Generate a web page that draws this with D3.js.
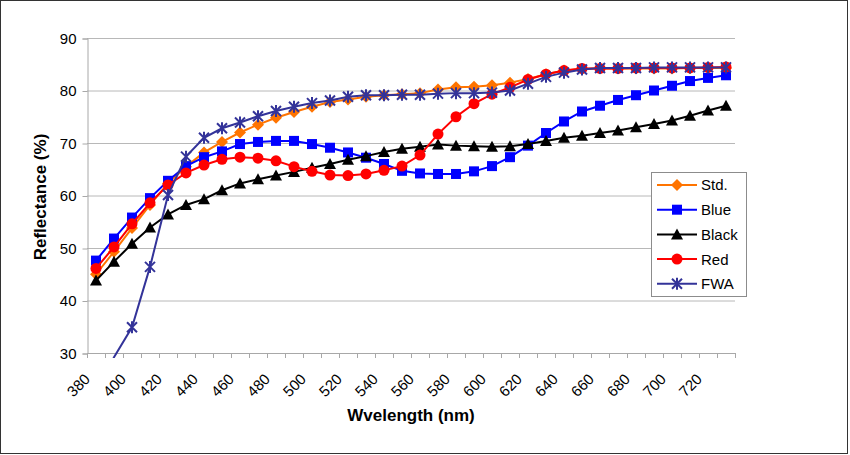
<!DOCTYPE html>
<html>
<head>
<meta charset="utf-8">
<script src="https://cdn.jsdelivr.net/npm/d3@7/dist/d3.min.js"></script>
<style>
  body { margin: 0; background: #fff; }
  svg { display: block; font-family: "Liberation Sans", Arial, sans-serif; }
</style>
</head>
<body>
<div id="chart"></div>
<script>
// wavelengths (nm), one category every 10 nm
var wavelengths = d3.range(380, 740, 10);
var xLabels = d3.range(380, 740, 20);
var yTicks = [30, 40, 50, 60, 70, 80, 90];

// reflectance (%)
var stdVals = [45.0, 49.3, 53.8, 58.2, 62.3, 65.5, 68.2, 70.2, 72.0, 73.5,
  74.8, 75.9, 76.9, 77.8, 78.3, 78.8, 79.1, 79.3, 79.5, 80.2,
  80.6, 80.7, 81.0, 81.5, 82.2, 83.1, 83.8, 84.1, 84.2, 84.2,
  84.2, 84.2, 84.2, 84.3, 84.3, 84.3];
var blueVals = [47.6, 51.8, 55.8, 59.5, 62.8, 65.6, 67.3, 68.4, 69.8, 70.2,
  70.4, 70.4, 69.8, 69.1, 68.2, 67.2, 66.0, 64.7, 64.2, 64.1,
  64.1, 64.6, 65.6, 67.3, 69.5, 71.9, 74.1, 76.0, 77.1, 78.2,
  79.1, 80.0, 80.9, 81.8, 82.4, 82.9];
var blackVals = [43.8, 47.4, 50.8, 53.9, 56.4, 58.2, 59.3, 61.0, 62.3, 63.1,
  63.8, 64.5, 65.3, 66.0, 66.8, 67.5, 68.3, 68.9, 69.3, 69.7,
  69.5, 69.4, 69.3, 69.4, 69.8, 70.4, 71.0, 71.4, 71.9, 72.4,
  73.0, 73.6, 74.3, 75.2, 76.2, 77.1];
var redVals = [46.1, 50.2, 54.6, 58.6, 62.0, 64.3, 65.8, 66.9, 67.3, 67.1,
  66.6, 65.5, 64.6, 63.9, 63.8, 64.1, 64.8, 65.6, 67.7, 71.7,
  75.0, 77.5, 79.3, 80.6, 82.1, 83.1, 83.8, 84.2, 84.2, 84.2,
  84.3, 84.3, 84.3, 84.3, 84.4, 84.5];
var fwaVals = [22.0, 29.2, 34.9, 46.4, 60.1, 67.4, 71.0, 72.8, 73.9, 75.1,
  76.1, 76.9, 77.6, 78.1, 78.8, 79.1, 79.1, 79.2, 79.2, 79.4,
  79.5, 79.5, 79.6, 80.0, 81.3, 82.6, 83.4, 84.0, 84.3, 84.3,
  84.3, 84.4, 84.4, 84.4, 84.4, 84.4];

var seriesNames = ["Std.", "Blue", "Black", "Red", "FWA"];
var seriesColors = ["#ff7400", "#0000ff", "#000000", "#ff0000", "#333399"];
var seriesShapes = ["diamond", "square", "triangle", "circle", "star"];
var seriesValues = [stdVals, blueVals, blackVals, redVals, fwaVals];

var W = 850, H = 455;
var plot = { left: 87, right: 735, top: 38, bottom: 353 };

var svg = d3.select("#chart").append("svg")
  .attr("width", W)
  .attr("height", H);

svg.append("rect")
  .attr("x", 0.5).attr("y", 0.5)
  .attr("width", 847).attr("height", 453)
  .attr("fill", "#fff")
  .attr("stroke", "#333");

var x = d3.scaleBand()
  .domain(wavelengths)
  .range([plot.left, plot.right])
  .padding(0);

var y = d3.scaleLinear()
  .domain([30, 90])
  .range([plot.bottom, plot.top]);

function cx(d) { return x(d) + x.bandwidth() / 2; }

// gridlines
svg.append("g")
  .selectAll("line")
  .data(yTicks.slice(1))
  .enter().append("line")
  .attr("x1", plot.left).attr("x2", plot.right)
  .attr("y1", function(d) { return y(d) + 0.5; })
  .attr("y2", function(d) { return y(d) + 0.5; })
  .attr("stroke", "#b8b8b8");

// y axis
var yAxis = svg.append("g")
  .attr("transform", "translate(" + (plot.left + 0.5) + ",0.5)")
  .call(d3.axisLeft(y).tickValues(yTicks).tickSize(5).tickPadding(6));
yAxis.select(".domain").attr("stroke", "#a8a8a8");
yAxis.selectAll(".tick line").attr("stroke", "#a8a8a8");
yAxis.selectAll(".tick text")
  .attr("font-size", "15px")
  .attr("fill", "#000")
  .attr("font-family", "Liberation Sans, Arial, sans-serif");

// x axis: ticks between categories, labels every 20 nm
var xAxis = svg.append("g");
xAxis.append("line")
  .attr("x1", plot.left).attr("x2", plot.right)
  .attr("y1", plot.bottom + 0.5).attr("y2", plot.bottom + 0.5)
  .attr("stroke", "#a8a8a8");
xAxis.selectAll(".tk")
  .data(wavelengths.concat([null]))
  .enter().append("line")
  .attr("class", "tk")
  .attr("x1", function(d) { return (d === null ? plot.right : x(d)) + 0.5; })
  .attr("x2", function(d) { return (d === null ? plot.right : x(d)) + 0.5; })
  .attr("y1", plot.bottom)
  .attr("y2", plot.bottom + 5)
  .attr("stroke", "#a8a8a8");
xAxis.selectAll(".lbl")
  .data(xLabels)
  .enter().append("text")
  .attr("class", "lbl")
  .attr("text-anchor", "end")
  .attr("font-size", "15px")
  .attr("transform", function(d) {
    return "translate(" + (cx(d) - 5) + "," + 380 + ")rotate(-45)";
  })
  .text(function(d) { return d; });

// axis titles
svg.append("text")
  .attr("text-anchor", "middle")
  .attr("font-weight", "bold")
  .attr("font-size", "17px")
  .attr("transform", "translate(46,197)rotate(-90)")
  .text("Reflectance (%)");

svg.append("text")
  .attr("x", 411)
  .attr("y", 421)
  .attr("text-anchor", "middle")
  .attr("font-weight", "bold")
  .attr("font-size", "17px")
  .text("Wvelength (nm)");

// markers
function marker(sel, shape, color) {
  if (shape === "circle") {
    sel.append("circle").attr("r", 5.5).attr("fill", color);
  } else if (shape === "square") {
    sel.append("rect").attr("x", -5).attr("y", -5)
      .attr("width", 10).attr("height", 10).attr("fill", color);
  } else if (shape === "diamond") {
    sel.append("path").attr("d", "M0,-6L6,0L0,6L-6,0Z").attr("fill", color);
  } else if (shape === "triangle") {
    sel.append("path").attr("d", "M0,-6L6,5L-6,5Z").attr("fill", color);
  } else if (shape === "star") {
    sel.append("path")
      .attr("d", "M-5,-5L5,5M-5,5L5,-5M0,-6L0,6")
      .attr("stroke", color).attr("stroke-width", 2).attr("fill", "none");
  }
}

svg.append("clipPath").attr("id", "clip")
  .append("rect")
  .attr("x", plot.left).attr("y", plot.top - 10)
  .attr("width", plot.right - plot.left)
  .attr("height", plot.bottom - plot.top + 15);

var line = d3.line()
  .x(function(d) { return cx(d.w); })
  .y(function(d) { return y(d.v); });

seriesNames.forEach(function(name, k) {
  var pts = wavelengths.map(function(w, i) { return { w: w, v: seriesValues[k][i] }; });
  var g = svg.append("g");
  g.append("path")
    .datum(pts)
    .attr("clip-path", "url(#clip)")
    .attr("fill", "none")
    .attr("stroke", seriesColors[k])
    .attr("stroke-width", 2)
    .attr("d", line);
  g.selectAll(".m")
    .data(pts.filter(function(d) { return d.v >= 30 && d.v <= 90; }))
    .enter().append("g")
    .attr("class", "m")
    .attr("transform", function(d) { return "translate(" + cx(d.w) + "," + y(d.v) + ")"; })
    .each(function() { marker(d3.select(this), seriesShapes[k], seriesColors[k]); });
});

// legend
var legend = svg.append("g");
legend.append("rect")
  .attr("x", 651.5).attr("y", 172.5)
  .attr("width", 95).attr("height", 124)
  .attr("fill", "#fff")
  .attr("stroke", "#8c8c8c");

seriesNames.forEach(function(name, k) {
  var ly = 185 + k * 24.7;
  var item = legend.append("g");
  item.append("line")
    .attr("x1", 657).attr("x2", 697)
    .attr("y1", ly).attr("y2", ly)
    .attr("stroke", seriesColors[k]).attr("stroke-width", 2);
  var m = item.append("g").attr("transform", "translate(677," + ly + ")");
  marker(m, seriesShapes[k], seriesColors[k]);
  item.append("text")
    .attr("x", 701).attr("y", ly)
    .attr("dy", "0.36em")
    .attr("font-size", "15px")
    .text(name);
});
</script>
</body>
</html>
